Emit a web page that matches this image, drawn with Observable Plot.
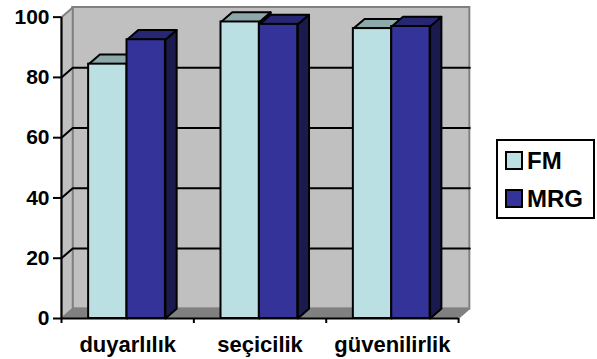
<!DOCTYPE html>
<html>
<head>
<meta charset="utf-8">
<script src="https://cdn.jsdelivr.net/npm/d3@7"></script>
<script src="https://cdn.jsdelivr.net/npm/@observablehq/plot@0.6"></script>
<style>
  html, body { margin: 0; padding: 0; background: #fff; }
  #chart { position: relative; width: 597px; height: 359px; overflow: hidden; }
  #chart svg { display: block; }
  .legend {
    position: absolute; left: 496px; top: 139px; width: 95px; height: 76px;
    border: 2px solid #000; background: #fff;
    font: bold 24px "Liberation Sans", Arial, sans-serif; color: #000;
  }
  .legend div { position: absolute; left: 7px; height: 19px; line-height: 19px; white-space: nowrap; }
  .legend i { display: inline-block; box-sizing: border-box; width: 18px; height: 19px; border: 2px solid #000; vertical-align: top; margin-right: 4px; }
</style>
</head>
<body>
<div id="chart"></div>
<script>
const categories = ["duyarlılık", "seçicilik", "güvenilirlik"];
const seriesNames = ["FM", "MRG"];
const fm = [84.4, 98.4, 96.2];
const mrg = [92.5, 97.6, 96.9];
const yTicks = [0, 20, 40, 60, 80, 100];

const colors = {
  FM: { front: "#bbe0e3", top: "#8ca8aa", side: "#5e7072" },
  MRG: { front: "#333399", top: "#262673", side: "#1a1a4d" }
};

// Horizontal unit = one category; vertical unit = chart value.
const depthX = 0.085;
const depthY = 3.2;
// Bar extents inside each category, measured from the category's left edge.
const barEdges = { FM: [0.205, 0.495], MRG: [0.495, 0.785] };

const bars = [];
categories.forEach((category, i) => {
  seriesNames.forEach((name, s) => {
    const value = (s === 0 ? fm : mrg)[i];
    const [a, b] = barEdges[name];
    bars.push({ category, name, value, x1: i + a, x2: i + b });
  });
});

// A closed polygon for the Plot.line mark, one z group per face.
const poly = (id, fill, pts) => pts.map(([x, y]) => ({ id, fill, x, y }));

const maxX = categories.length;
const maxY = 100;

const floor = poly("floor", "#808080", [[0, 0], [maxX, 0], [maxX + depthX, depthY], [depthX, depthY]]);
const sideWall = poly("wall", "#c0c0c0", [[0, 0], [depthX, depthY], [depthX, maxY + depthY], [0, maxY]]);

const gridSide = yTicks.slice(1, -1).map(v => [
  { id: v, x: 0, y: v }, { id: v, x: depthX, y: v + depthY }, { id: v, x: maxX + depthX, y: v + depthY }
]).flat();

const faces = (key, corners) => bars.flatMap((b, i) => poly(`${key}${i}`, colors[b.name][key], corners(b)));
const sides = faces("side", b => [[b.x2, 0], [b.x2 + depthX, depthY], [b.x2 + depthX, b.value + depthY], [b.x2, b.value]]);
const tops = faces("top", b => [[b.x1, b.value], [b.x2, b.value], [b.x2 + depthX, b.value + depthY], [b.x1 + depthX, b.value + depthY]]);

const closedFace = (data, stroke, strokeWidth) => Plot.line(data, {
  x: "x", y: "y", z: "id", fill: "fill", stroke, strokeWidth, curve: "linear-closed"
});

const chart = Plot.plot({
  width: 597,
  height: 359,
  marginLeft: 61,
  marginRight: 127,
  marginTop: 7,
  marginBottom: 41,
  style: { background: "transparent", fontFamily: "'Liberation Sans', Arial, sans-serif", overflow: "visible" },
  x: { domain: [0, maxX + depthX + 0.005], label: null },
  y: { domain: [0, maxY + depthY], label: null },
  marks: [
    // back wall, side wall and floor
    Plot.rect([{}], { x1: depthX, x2: maxX + depthX, y1: depthY, y2: maxY + depthY, fill: "#c0c0c0", stroke: "#808080", strokeWidth: 2 }),
    closedFace(sideWall, "#808080", 2),
    closedFace(floor, "#808080", 1),
    Plot.line(gridSide, { x: "x", y: "y", z: "id", stroke: "#000", strokeWidth: 2 }),
    // bar faces
    closedFace(sides, "#000", 2),
    closedFace(tops, "#000", 2),
    Plot.rect(bars, { x1: "x1", x2: "x2", y1: 0, y2: "value", fill: d => colors[d.name].front, stroke: "#000", strokeWidth: 2 }),
    // axis lines
    Plot.ruleX([0], { y1: 0, y2: maxY, stroke: "#000", strokeWidth: 2 }),
    Plot.ruleY([0], { x1: 0, x2: maxX, stroke: "#000", strokeWidth: 2 }),
    Plot.axisY({ ticks: yTicks, tickSize: 8, tickPadding: 4, fontSize: 21, fontWeight: "bold", fill: "#000", stroke: "#000", strokeWidth: 2, label: null }),
    Plot.axisX({ ticks: d3.range(maxX + 1), tickSize: 5, tickFormat: () => "", stroke: "#000", strokeWidth: 2, label: null }),
    Plot.text(categories, { x: (d, i) => i + 0.5, y: 0, dy: 26, lineAnchor: "middle", text: d => d, fontSize: 22, fontWeight: "bold", fill: "#000" })
  ]
});

const root = document.getElementById("chart");
root.append(chart);

const legend = document.createElement("div");
legend.className = "legend";
seriesNames.forEach((name, i) => {
  const row = document.createElement("div");
  row.style.top = `${10 + i * 38}px`;
  const swatch = document.createElement("i");
  swatch.style.background = colors[name].front;
  row.append(swatch, name);
  legend.append(row);
});
root.append(legend);
</script>
</body>
</html>
